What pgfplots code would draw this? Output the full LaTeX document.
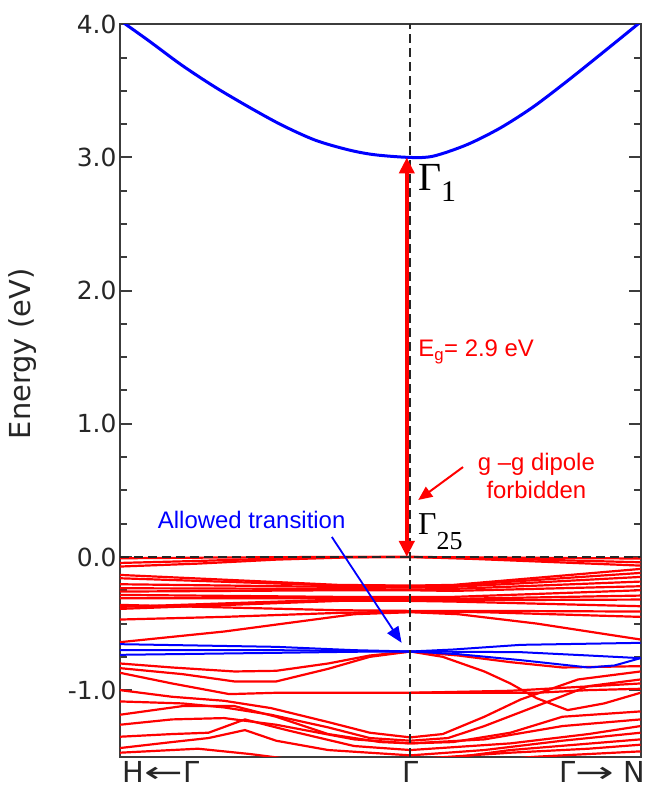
\documentclass[border=0pt]{standalone}
\usepackage{graphicx}
\usepackage{fontspec}
\setmainfont{DejaVu Sans}
\newfontfamily\annofont{Liberation Sans}
\newfontfamily\symfont{Liberation Serif}
\usepackage{pgfplots}
\pgfplotsset{compat=1.18}
\usetikzlibrary{arrows.meta}

\definecolor{framegray}{RGB}{60,60,60}
\definecolor{bandred}{RGB}{255,0,0}
\definecolor{bandblue}{RGB}{0,0,255}

\begin{document}
\begin{tikzpicture}
\path[use as bounding box] (-120bp,-32.3bp) rectangle (531bp,756.7bp);
\begin{axis}[
  scale only axis, width=520.5bp, height=732.4bp,
  xmin=0, xmax=1, ymin=-1.5, ymax=4.0,
  axis line style={framegray, line width=2bp},
  xtick=\empty,
  ytick={-1,0,1,2,3,4},
  yticklabels={-1.0,0.0,1.0,2.0,3.0,4.0},
  minor y tick num=3,
  tick align=inside,
  major tick length=12bp, minor tick length=7bp,
  tick style={framegray, line width=2bp},
  yticklabel style={font=\fontsize{25}{30}\selectfont, text=black!85},
  ylabel={Energy (eV)},
  ylabel style={font=\fontsize{29}{32}\selectfont, text=black!85,
    at={(axis description cs:-0.188,0.55)}, anchor=center},
  clip mode=individual,
  red band/.style={bandred, line width=2.2bp, no markers},
  blue band/.style={bandblue, line width=2bp, no markers},
]

% conduction band
\addplot[bandblue, line width=3bp, smooth, no markers] coordinates {
  (0,4.03) (0.054,3.88) (0.118,3.695) (0.182,3.53) (0.247,3.38) (0.31,3.245)
  (0.375,3.13) (0.439,3.057) (0.49,3.02) (0.558,3.0) (0.602,3.01) (0.666,3.095)
  (0.73,3.22) (0.794,3.38) (0.858,3.57) (0.922,3.77) (0.993,3.995) (1,4.02)};

% valence bands: top triplet
\addplot[red band] coordinates {(0,-0.01) (0.2,-0.004) (0.4,0) (0.558,0) (0.75,-0.005) (1,-0.012)};
\addplot[red band] coordinates {(0,-0.045) (0.15,-0.03) (0.35,-0.005) (0.45,0) (0.558,0) (0.7,-0.01) (1,-0.04)};
\addplot[red band] coordinates {(0,-0.072) (0.15,-0.05) (0.3,-0.02) (0.45,-0.002) (0.558,0) (0.68,-0.015) (1,-0.065)};

% bundle near -0.25 eV
\addplot[red band] coordinates {(0,-0.135) (0.42,-0.21) (0.558,-0.215) (0.64,-0.21) (1,-0.09)};
\addplot[red band] coordinates {(0,-0.16) (0.42,-0.215) (0.558,-0.22) (0.64,-0.215) (1,-0.12)};
\addplot[red band] coordinates {(0,-0.205) (0.42,-0.225) (0.558,-0.23) (0.64,-0.225) (1,-0.15)};
\addplot[red band] coordinates {(0,-0.235) (0.42,-0.24) (0.558,-0.245) (0.64,-0.24) (1,-0.185)};
\addplot[red band] coordinates {(0,-0.26) (0.42,-0.25) (0.558,-0.25) (0.64,-0.255) (1,-0.22)};
\addplot[red band] coordinates {(0,-0.285) (0.42,-0.30) (0.558,-0.30) (0.64,-0.30) (1,-0.25)};
\addplot[red band] coordinates {(0,-0.31) (0.42,-0.31) (0.558,-0.31) (0.64,-0.315) (1,-0.29)};
\addplot[red band] coordinates {(0,-0.375) (0.42,-0.32) (0.558,-0.32) (0.64,-0.325) (1,-0.32)};
\addplot[red band] coordinates {(0,-0.39) (0.42,-0.33) (0.558,-0.33) (0.64,-0.335) (1,-0.37)};

% bands near -0.4 eV
\addplot[red band] coordinates {(0,-0.47) (0.2,-0.45) (0.42,-0.42) (0.558,-0.41) (0.7,-0.415) (1,-0.45)};
\addplot[red band] coordinates {(0,-0.64) (0.2,-0.56) (0.45,-0.43) (0.558,-0.415) (0.65,-0.43) (0.8,-0.5) (1,-0.62)};
\addplot[red band] coordinates {(0,-0.36) (0.42,-0.40) (0.558,-0.405) (0.7,-0.405) (1,-0.41)};

% lower bands
\addplot[red band] coordinates {(0,-0.80) (0.1,-0.83) (0.22,-0.86) (0.3,-0.855) (0.4,-0.80) (0.48,-0.74) (0.558,-0.71) (0.65,-0.74) (0.75,-0.79) (0.85,-0.83) (1,-0.82)};
\addplot[red band] coordinates {(0,-0.835) (0.12,-0.88) (0.22,-0.935) (0.3,-0.935) (0.4,-0.84) (0.48,-0.75) (0.558,-0.71) (0.62,-0.75) (0.70,-0.86) (0.75,-0.95) (0.80,-1.06) (0.86,-1.15) (0.93,-1.10) (1,-1.02)};
\addplot[red band] coordinates {(0,-0.87) (0.1,-0.95) (0.21,-1.03) (0.3,-1.02) (0.558,-1.02) (0.8,-1.02) (0.9,-1.0) (1,-0.99)};
\addplot[red band] coordinates {(0.558,-1.02) (0.75,-1.005) (1,-0.95)};
\addplot[red band] coordinates {(0,-1.00) (0.1,-1.05) (0.2,-1.08) (0.29,-1.135) (0.4,-1.24) (0.48,-1.32) (0.558,-1.355) (0.62,-1.33) (0.7,-1.2) (0.77,-1.07) (0.88,-0.92) (1,-0.86)};
\addplot[red band] coordinates {(0,-1.085) (0.12,-1.10) (0.2,-1.13) (0.29,-1.185) (0.4,-1.28) (0.48,-1.36) (0.558,-1.38) (0.63,-1.36) (0.7,-1.27) (0.8,-1.12) (0.9,-0.97) (1,-0.92)};
\addplot[red band] coordinates {(0,-1.185) (0.12,-1.12) (0.22,-1.12) (0.3,-1.20) (0.4,-1.33) (0.5,-1.39) (0.558,-1.40) (0.64,-1.39) (0.75,-1.32) (0.85,-1.20) (1,-1.16)};
\addplot[red band] coordinates {(0,-1.26) (0.1,-1.22) (0.2,-1.21) (0.3,-1.26) (0.45,-1.37) (0.558,-1.40) (0.7,-1.37) (0.85,-1.27) (1,-1.22)};
\addplot[red band] coordinates {(0,-1.35) (0.1,-1.33) (0.17,-1.32) (0.24,-1.22) (0.32,-1.30) (0.45,-1.42) (0.558,-1.45) (0.75,-1.40) (0.9,-1.33) (1,-1.27)};
\addplot[red band] coordinates {(0,-1.435) (0.1,-1.39) (0.17,-1.36) (0.24,-1.30) (0.3,-1.38) (0.4,-1.45) (0.558,-1.49) (0.7,-1.45) (0.85,-1.38) (1,-1.32)};
\addplot[red band] coordinates {(0,-1.47) (0.15,-1.44) (0.25,-1.48) (0.35,-1.53) (0.558,-1.55) (0.75,-1.45) (1,-1.37)};
\addplot[red band] coordinates {(0.45,-1.56) (0.558,-1.52) (0.75,-1.47) (0.9,-1.44) (1,-1.41)};
\addplot[red band] coordinates {(0.6,-1.56) (0.8,-1.50) (1,-1.46)};

% Gamma_15-like bands (dipole allowed)
\addplot[blue band] coordinates {(0,-0.655) (0.3,-0.675) (0.45,-0.70) (0.558,-0.71) (0.64,-0.695) (0.77,-0.66) (1,-0.645)};
\addplot[blue band] coordinates {(0,-0.70) (0.3,-0.70) (0.558,-0.71) (0.77,-0.715) (0.9,-0.74) (1,-0.76)};
\addplot[blue band] coordinates {(0,-0.735) (0.3,-0.72) (0.45,-0.712) (0.558,-0.71) (0.65,-0.73) (0.77,-0.775) (0.9,-0.83) (0.95,-0.815) (1,-0.76)};

% Fermi level and Gamma point
\addplot[black!85, line width=2bp, dash pattern=on 9bp off 5bp] coordinates {(0,0) (1,0)};
\addplot[black!85, line width=2bp, dash pattern=on 9bp off 5bp] coordinates {(0.558,-1.5) (0.558,4.0)};

% gap arrow
\draw[bandred, line width=4.5bp, {Triangle[length=16bp,width=15bp]}-{Triangle[length=16bp,width=15bp]}]
  (axis cs:0.551,0.0) -- (axis cs:0.551,3.0);

\node[anchor=base west, inner sep=0pt, font=\symfont\fontsize{40}{40}\selectfont]
  at (axis cs:0.5725,2.753) {Γ\raisebox{-11bp}{\fontsize{30}{30}\selectfont 1}};
\node[anchor=base west, inner sep=0pt, font=\symfont\fontsize{32}{32}\selectfont]
  at (axis cs:0.5725,0.165) {Γ\raisebox{-15bp}{\fontsize{26}{26}\selectfont 25}};

\node[anchor=west, inner sep=0pt, text=bandred, font=\annofont\fontsize{24}{28}\selectfont]
  at (axis cs:0.573,1.54) {E\textsubscript{g}= 2.9 eV};

\node[align=center, text=bandred, font=\annofont\fontsize{24}{28}\selectfont]
  at (axis cs:0.80,0.61) {g –g dipole\\forbidden};
\draw[bandred, line width=2bp, -{Triangle[length=14bp,width=12bp]}]
  (axis cs:0.659,0.675) -- (axis cs:0.573,0.428);

\node[text=bandblue, font=\annofont\fontsize{24}{28}\selectfont]
  at (axis cs:0.253,0.278) {Allowed transition};
\draw[bandblue, line width=1.8bp, -{Triangle[length=16bp,width=13bp]}]
  (axis cs:0.407,0.15) -- (axis cs:0.541,-0.645);

% k-path labels
\node[anchor=base, font=\fontsize{29}{32}\selectfont, text=black!85, yshift=-26bp]
  at (axis cs:0.079,-1.5) {H\scalebox{1.6}[1]{←}Γ};
\node[anchor=base, font=\fontsize{29}{32}\selectfont, text=black!85, yshift=-26bp]
  at (axis cs:0.558,-1.5) {Γ};
\node[anchor=base, font=\fontsize{29}{32}\selectfont, text=black!85, yshift=-26bp]
  at (axis cs:0.926,-1.5) {Γ\scalebox{1.6}[1]{→} N};
\end{axis}
\end{tikzpicture}
\end{document}
